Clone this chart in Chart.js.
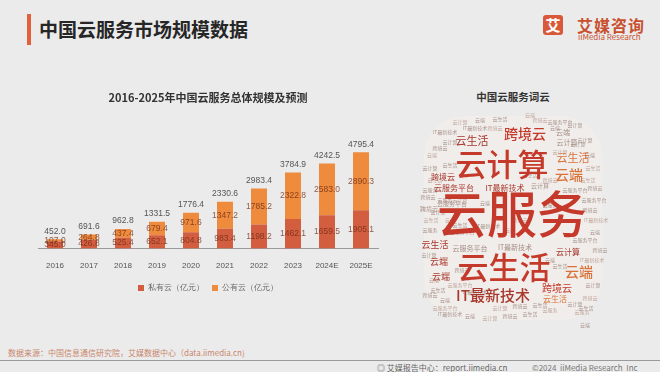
<!DOCTYPE html>
<html>
<head>
<meta charset="utf-8">
<script src="https://cdn.jsdelivr.net/npm/chart.js@4"></script>
<style>
  body { margin: 0; width: 660px; height: 372px; background: #ebebeb; overflow: hidden; font-family: "Noto Sans CJK SC", "Noto Sans", sans-serif; position: relative; }
  .abs { position: absolute; white-space: nowrap; }
  #bar { position: absolute; left: 27px; top: 14px; width: 4px; height: 31px; background: #e2603a; }
  #title { left: 39px; top: 14px; font-size: 19px; font-weight: bold; color: #262626; line-height: 30px; }
  #logoBox { left: 543px; top: 15px; width: 20px; height: 20px; background: #d9583a; border-radius: 3px; color: #fff; font-size: 15px; font-weight: bold; text-align: center; line-height: 20px; }
  #logoCn { left: 577px; top: 13px; font-size: 16px; font-weight: bold; color: #c8502f; letter-spacing: 1px; }
  #logoEn { left: 578px; top: 31px; font-size: 8px; color: #c8502f; }
  #cloudTitle { left: 400px; top: 89px; width: 226px; text-align: center; font-size: 10.5px; font-weight: bold; color: #333; }
  #source { left: 8px; top: 347px; font-size: 8px; color: #c9866b; }
  #rule { position: absolute; left: 0; top: 360px; width: 660px; height: 1px; background: #9a9a9a; }
  #report { left: 377px; top: 362px; font-size: 8px; color: #666; }
  #copy { left: 532px; top: 362px; font-size: 8px; color: #777; }
  #mainWrap { position: absolute; left: 0; top: 85px; width: 400px; height: 219px; }
  #cloudWrap { position: absolute; left: 400px; top: 80px; width: 260px; height: 250px; }
</style>
</head>
<body>
<div id="bar"></div>
<div id="title" class="abs">中国云服务市场规模数据</div>
<div id="logoBox" class="abs">艾</div>
<div id="logoCn" class="abs">艾媒咨询</div>
<div id="logoEn" class="abs">iiMedia Research</div>
<div id="cloudTitle" class="abs">中国云服务词云</div>
<div id="mainWrap"><canvas id="mainChart"></canvas></div>
<div id="cloudWrap"><canvas id="cloudChart"></canvas></div>
<div id="source" class="abs">数据来源：中国信息通信研究院，艾媒数据中心（data.iimedia.cn)</div>
<div id="rule"></div>
<div id="report" class="abs">◎ 艾媒报告中心：report.iimedia.cn</div>
<div id="copy" class="abs">©2024&nbsp;&nbsp;iiMedia Research&nbsp;&nbsp;Inc</div>

<script>
// Market size data (亿元)
const years = ['2016', '2017', '2018', '2019', '2020', '2021', '2022', '2023', '2024E', '2025E'];
const privateCloud = [345.0, 426.8, 525.4, 652.1, 804.8, 983.4, 1198.2, 1462.1, 1659.5, 1905.1];
const publicCloud = [107.0, 264.8, 437.4, 679.4, 971.6, 1347.2, 1785.2, 2322.8, 2583.0, 2890.3];
const totals = [452.0, 691.6, 962.8, 1331.5, 1776.4, 2330.6, 2983.4, 3784.9, 4242.5, 4795.4];

// Word cloud data: word, position (x, y inside the cloud panel), weight, tone
const cloudWords = [
  '云服务', '云计算', '云生活', 'IT最新技术', '跨境云', '云生活', '云生活', '云端',
  '云端', '云计算', '云服务平台', 'IT最新技术', '云计算', '跨境云', '云生活', '云端',
  '云端', '云服务平台', 'IT最新技术', '跨境云', '云生活', '云端', '云计算', '云服务平台', '跨境云'
];
const cloudX = [112, 102, 104, 93, 125, 72, 173, 169, 179, 168, 54, 105, 140, 43, 35, 39, 41, 70, 115, 157, 155, 163, 167, 52, 29];
const cloudY = [134, 84, 187, 215, 54, 61, 78, 95, 192, 172, 108, 108, 106, 97, 165, 182, 197, 168, 167, 208, 219, 52, 62, 124, 129];
const cloudWeight = [50, 31, 31, 15, 14, 11, 11, 14, 14, 8, 8, 8, 6, 8, 9, 9, 9, 7, 7, 10, 8, 7, 7, 6, 6];
const cloudTone = [0, 0, 0, 1, 0, 1, 2, 2, 2, 1, 1, 1, 3, 1, 1, 1, 1, 3, 3, 0, 2, 3, 3, 3, 3];

// tiny background words
const tinyWords = ['云计算', '云端', '云生活', '跨境云', '云服务平台', 'IT最新技术', '云端', '云计算', '跨境云', '云生活', '云服务'];
const tinyX = [60, 80, 100, 140, 160, 45, 32, 30, 28, 31, 30, 29, 34, 38, 30, 45, 50, 70, 90, 110, 130, 150, 185, 190, 193, 195, 194, 196, 195, 193, 190, 186, 150, 60, 85, 130, 150, 175, 75, 130,
  50, 40, 35, 45, 38, 50, 60, 62, 60, 75, 45, 100, 120, 140, 182, 175, 185, 188, 190, 185, 192, 155, 175, 95, 50, 30, 160, 150, 160, 120, 62, 88, 110, 178, 200];
const tinyY = [42, 40, 39, 40, 42, 52, 75, 88, 117, 140, 150, 175, 200, 210, 215, 228, 234, 236, 238, 236, 234, 230, 60, 75, 88, 108, 120, 140, 152, 205, 218, 228, 125, 120, 123, 95, 100, 110, 48, 35,
  62, 68, 100, 120, 132, 140, 145, 190, 205, 212, 220, 228, 226, 225, 232, 224, 245, 100, 130, 160, 180, 48, 45, 48, 85, 110, 72, 180, 186, 140, 152, 146, 150, 64, 170];

const tonePalette = ['#c5392a', '#a8372c', '#d9733a', '#a88f86'];

const mainCtx = document.getElementById('mainChart').getContext('2d');

const barLabels = {
  id: 'barLabels',
  afterDatasetsDraw(chart) {
    const ctx = chart.ctx;
    ctx.save();
    ctx.font = '8.5px "Liberation Sans", Arial, sans-serif';
    ctx.textAlign = 'center';
    ctx.textBaseline = 'middle';
    chart.data.datasets.forEach((ds, i) => {
      const meta = chart.getDatasetMeta(i);
      meta.data.forEach((bar, j) => {
        ctx.fillStyle = 'rgba(110,40,20,0.75)';
        ctx.fillText(ds.data[j].toFixed(1), bar.x, (bar.y + bar.base) / 2);
      });
    });
    const topMeta = chart.getDatasetMeta(1);
    topMeta.data.forEach((bar, j) => {
      ctx.fillStyle = '#555';
      ctx.fillText(totals[j].toFixed(1), bar.x, bar.y - 8);
    });
    ctx.restore();
  }
};

new Chart(mainCtx, {
  type: 'bar',
  data: {
    labels: years,
    datasets: [
      { label: '私有云（亿元）', data: privateCloud, backgroundColor: '#d35e3f' },
      { label: '公有云（亿元）', data: publicCloud, backgroundColor: '#ee8b3d' }
    ]
  },
  options: {
    responsive: true,
    maintainAspectRatio: false,
    animation: false,
    layout: { padding: { left: 38, right: 22, top: 0, bottom: 2 } },
    datasets: { bar: { barPercentage: 0.94, categoryPercentage: 0.5 } },
    scales: {
      x: {
        stacked: true,
        grid: { display: false },
        border: { color: '#9a9a9a' },
        ticks: { color: '#555', font: { size: 8 }, padding: 5 }
      },
      y: { stacked: true, display: false, min: 0, max: 5500 }
    },
    plugins: {
      title: {
        display: true,
        text: '2016-2025年中国云服务总体规模及预测',
        color: '#333',
        font: { size: 11, weight: 'bold', family: '"Noto Sans CJK SC", sans-serif' },
        padding: { top: 6, bottom: 34 }
      },
      legend: {
        position: 'bottom',
        labels: { boxWidth: 6, boxHeight: 6, color: '#666', font: { size: 8 }, padding: 8 }
      },
      tooltip: { enabled: false }
    }
  },
  plugins: [barLabels]
});

// Word cloud drawn as a scatter chart with text at each point
const cloudCtx = document.getElementById('cloudChart').getContext('2d');

const wordText = {
  id: 'wordText',
  beforeDatasetsDraw(chart) {
    const ctx = chart.ctx;
    const xs = chart.scales.x, ys = chart.scales.y;
    ctx.save();
    ctx.fillStyle = '#f0edeb';
    ctx.beginPath();
    ctx.roundRect(xs.getPixelForValue(24), ys.getPixelForValue(36), xs.getPixelForValue(202) - xs.getPixelForValue(24), ys.getPixelForValue(240) - ys.getPixelForValue(36), 40);
    ctx.fill();
    ctx.restore();
  },
  afterDatasetsDraw(chart) {
    const ctx = chart.ctx;
    ctx.save();
    ctx.textAlign = 'center';
    ctx.textBaseline = 'middle';
    const tinyMeta = chart.getDatasetMeta(0);
    tinyMeta.data.forEach((pt, i) => {
      ctx.font = '5px "Noto Sans CJK SC", sans-serif';
      ctx.fillStyle = i % 3 === 0 ? '#c0a79c' : '#a9958d';
      ctx.fillText(tinyWords[i % tinyWords.length], pt.x, pt.y);
    });
    const meta = chart.getDatasetMeta(1);
    meta.data.forEach((pt, i) => {
      const w = cloudWeight[i];
      ctx.font = (w >= 14 ? '500 ' : '') + w + 'px "Noto Sans CJK SC", sans-serif';
      ctx.fillStyle = tonePalette[cloudTone[i]];
      ctx.fillText(cloudWords[i], pt.x, pt.y);
    });
    ctx.restore();
  }
};

new Chart(cloudCtx, {
  type: 'scatter',
  data: {
    datasets: [
      { data: tinyX.map((x, i) => ({ x: x, y: tinyY[i] })), pointRadius: 0 },
      { data: cloudX.map((x, i) => ({ x: x, y: cloudY[i] })), pointRadius: 0 }
    ]
  },
  options: {
    responsive: true,
    maintainAspectRatio: false,
    animation: false,
    layout: { padding: 0 },
    scales: {
      x: { display: false, min: 0, max: 260 },
      y: { display: false, min: 0, max: 250, reverse: true }
    },
    plugins: { legend: { display: false }, tooltip: { enabled: false } }
  },
  plugins: [wordText]
});
</script>
</body>
</html>
